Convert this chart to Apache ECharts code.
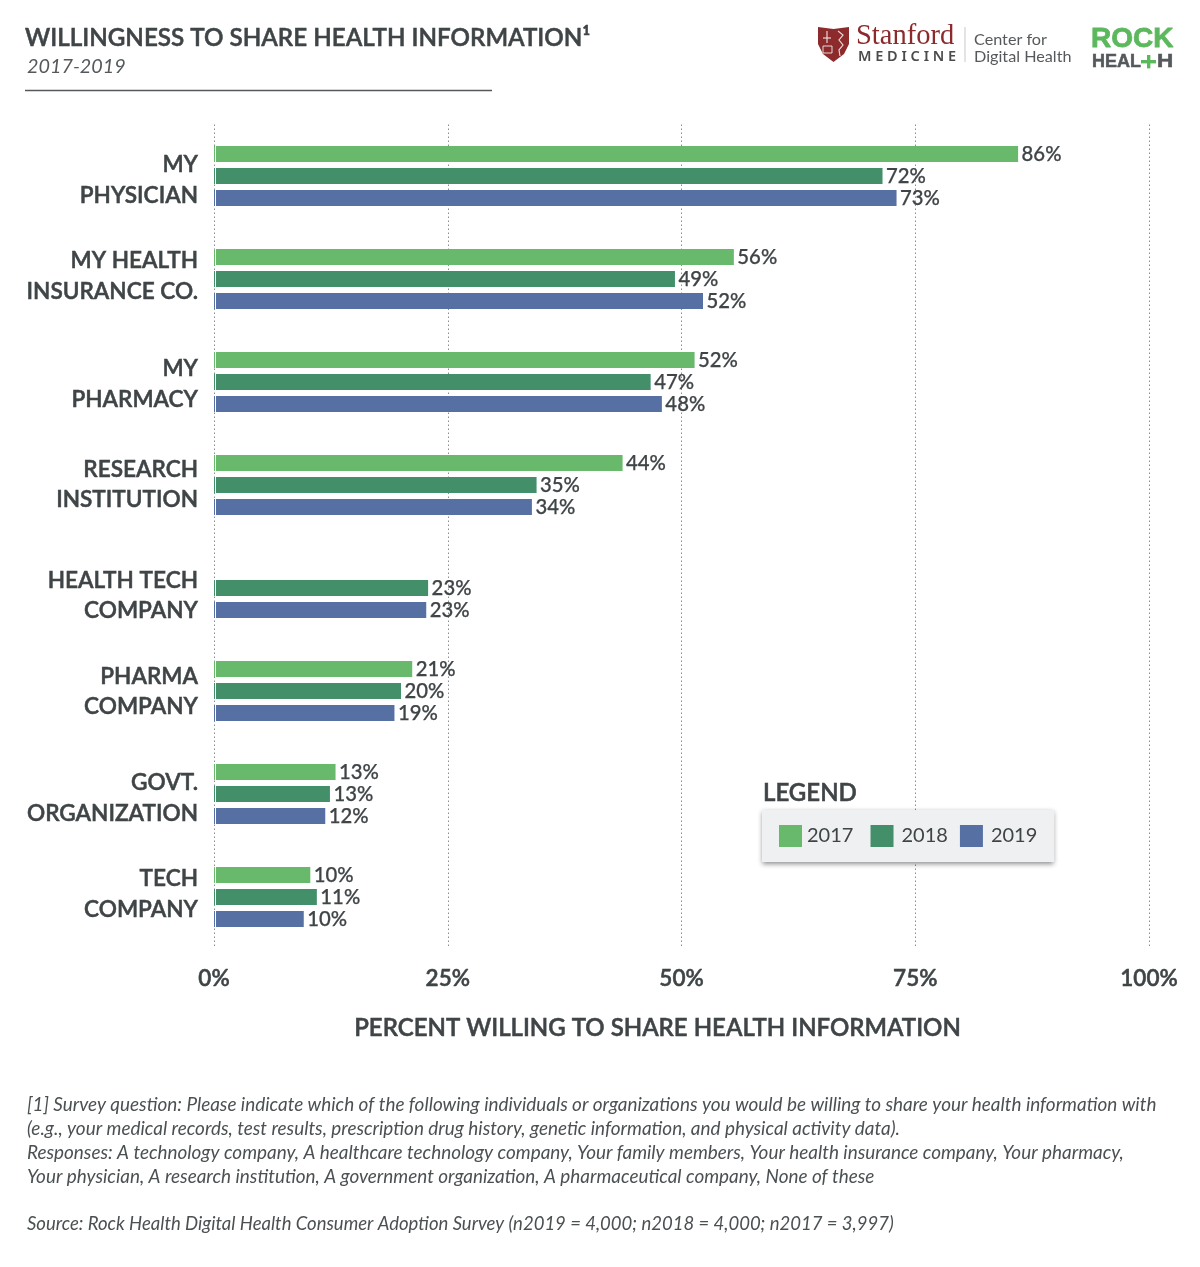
<!DOCTYPE html>
<html><head><meta charset="utf-8">
<style>html,body{margin:0;padding:0;background:#fff}#c{width:1200px;height:1267px}</style>
<script src="https://cdn.jsdelivr.net/npm/echarts@6/dist/echarts.min.js"></script>
</head><body><div id="c"></div>
<script>
const categories=['MY\nPHYSICIAN','MY HEALTH\nINSURANCE CO.','MY\nPHARMACY','RESEARCH\nINSTITUTION','HEALTH TECH\nCOMPANY','PHARMA\nCOMPANY','GOVT.\nORGANIZATION','TECH\nCOMPANY'];
const values2017=[86,55.6,51.4,43.7,null,21.2,13,10.3];
const values2018=[71.5,49.3,46.7,34.5,22.9,20,12.4,11];
const values2019=[73,52.3,47.9,34,22.7,19.3,11.9,9.6];
const labels2017=['86%','56%','52%','44%','','21%','13%','10%'];
const labels2018=['72%','49%','47%','35%','23%','20%','13%','11%'];
const labels2019=['73%','52%','48%','34%','23%','19%','12%','10%'];
const axisTicks=[0,25,50,75,100];
const labelShift=[4,-3,2,-0.5,7.5,0.5,4,-3];
const footnotes=['[1] Survey question: Please indicate which of the following individuals or organizations you would be willing to share your health information with','(e.g., your medical records, test results, prescription drug history, genetic information, and physical activity data).','Responses: A technology company, A healthcare technology company, Your family members, Your health insurance company, Your pharmacy,','Your physician, A research institution, A government organization, A pharmaceutical company, None of these','','Source: Rock Health Digital Health Consumer Adoption Survey (n2019 = 4,000; n2018 = 4,000; n2017 = 3,997)'];
const TXT='#3f4447',FONT='Lato';
const heavy={textBorderColor:TXT,textBorderWidth:0.5};
const rich={a:Object.assign({fontFamily:FONT,fontSize:22.6,fontWeight:600,color:TXT,lineHeight:30.5,align:'right'},heavy)};
labelShift.forEach((s,i)=>{rich['sp'+i]={fontSize:1,lineHeight:Math.abs(s)*2,color:'transparent'};});
function catLabel(v,i){
 const lines=v.split('\n').map(l=>`{a|${l}}`).join('\n');
 const s=labelShift[i];
 const sp=`{sp${i}|\u00a0}`;
 return s>0?sp+'\n'+lines:lines+'\n'+sp;
}
function series(name,vals,labs,color){return{name,type:'bar',data:vals,barWidth:16,barGap:'37.5%',itemStyle:{color},
 label:{show:true,position:'right',distance:3.5,fontFamily:FONT,fontSize:20.3,fontWeight:500,color:TXT,textBorderColor:TXT,textBorderWidth:0.25,formatter:p=>labs[p.dataIndex]}};}
function T(x,y,text,size,color,extra){return{type:'text',x,y,silent:true,z:10,style:Object.assign({text,fontFamily:FONT,fontSize:size,fill:color,verticalAlign:'middle'},extra||{})};}
const bold={stroke:TXT,lineWidth:0.5,fontWeight:600};
const chart=echarts.init(document.getElementById('c'),null,{renderer:'canvas'});
chart.setOption({
 animation:false,backgroundColor:'#fff',
 grid:{left:214,top:124.5,width:935,height:824,containLabel:false},
 xAxis:{type:'value',min:0,max:100,interval:25,position:'bottom',
  axisLine:{show:false},axisTick:{show:false},
  splitLine:{show:true,lineStyle:{type:[1.5,2.5],color:'#8a8d90',width:1}},
  axisLabel:Object.assign({margin:19,formatter:v=>axisTicks.includes(v)?v+'%':'',fontFamily:FONT,fontSize:22.5,fontWeight:600,color:TXT,hideOverlap:false,alignMinLabel:'center',alignMaxLabel:'center'},heavy),
  name:'PERCENT WILLING TO SHARE HEALTH INFORMATION',nameLocation:'middle',nameGap:68,
  nameTextStyle:Object.assign({fontFamily:FONT,fontSize:24,fontWeight:600,color:TXT,padding:[0,48,0,0]},heavy)},
 yAxis:{type:'category',inverse:true,data:categories,axisLine:{show:false},axisTick:{show:false},
  axisLabel:{margin:16,interval:0,align:'right',formatter:catLabel,rich}},
 legend:{left:762,top:810,orient:'horizontal',backgroundColor:'#eff0f2',padding:[15,17,15,17],itemWidth:23,itemHeight:22,itemGap:12,
  shadowColor:'rgba(0,0,0,0.45)',shadowBlur:5,shadowOffsetY:2,
  icon:'rect',textStyle:{fontFamily:FONT,fontSize:20,color:TXT},
  formatter:n=>n==='2017'?n+'\u00a0':n,
  data:[{name:'2017'},{name:'2018',textStyle:{padding:[0,0,0,3]}},{name:'2019',textStyle:{padding:[0,0,0,3]}}]},
 series:[series('2017',values2017,labels2017,'#69b96c'),series('2018',values2018,labels2018,'#428f69'),series('2019',values2019,labels2019,'#5670a3')],
 graphic:[
  {type:'rect',silent:true,z:9,shape:{x:215,y:124,width:1,height:824},style:{fill:'#fff'}},
  T(25,38.5,'WILLINGNESS TO SHARE HEALTH INFORMATION¹',24.2,TXT,bold),
  T(27,67,'2017-2019',19.8,'#55595c',{fontStyle:'italic'}),
  {type:'line',silent:true,shape:{x1:25,y1:90.5,x2:492,y2:90.5},style:{stroke:'#55595c',lineWidth:1.3}},
  T(763,793,'LEGEND',24,TXT,bold),
  ...footnotes.map((t,i)=>T(27,1104.5+24*i,t,i===5?18.5:18.9,'#4b5053',{fontStyle:'italic'})),
  // Stanford mark
  {type:'polygon',silent:true,z:10,shape:{points:[[818,27],[833.5,29],[849,27],[849,44],[844,54],[833.5,62],[823,54],[818,44]]},style:{fill:'#8c2a2c'}},
  {type:'line',silent:true,z:11,shape:{x1:827,y1:31,x2:827,y2:43},style:{stroke:'#e8d8d8',lineWidth:1.2}},
  {type:'line',silent:true,z:11,shape:{x1:823,y1:38,x2:831,y2:38},style:{stroke:'#e8d8d8',lineWidth:1.2}},
  {type:'polyline',silent:true,z:11,shape:{points:[[838,31],[843,35],[839,40],[843,45],[839,50],[840,56]]},style:{stroke:'#e8d8d8',lineWidth:1.2,fill:'none'}},
  {type:'rect',silent:true,z:11,shape:{x:823,y:46,width:9,height:7},style:{stroke:'#e8d8d8',lineWidth:1,fill:'none'}},
  T(856,36.5,'Stanford',28.5,'#8c2a2c',{fontFamily:'Liberation Serif'}),
  T(858,57,'M E D I C I N E',14.5,'#4b4b4b',{fontFamily:'Noto Sans',fontWeight:600}),
  {type:'line',silent:true,shape:{x1:965,y1:27,x2:965,y2:62},style:{stroke:'#c9c9c9',lineWidth:1}},
  T(974,40,'Center for',16.2,'#55595c'),
  T(974,57,'Digital Health',16.2,'#55595c'),
  T(1091,39,'ROCK',28,'#5cb85c',{fontFamily:'Liberation Sans',fontWeight:'bold',stroke:'#5cb85c',lineWidth:0.8}),
  T(1092,62,'HEAL',18,'#55595c',{fontFamily:'Liberation Sans',fontWeight:'bold',stroke:'#55595c',lineWidth:0.5}),
  {type:'rect',silent:true,z:10,shape:{x:1141,y:60,width:15,height:3.4},style:{fill:'#5cb85c'}},
  {type:'rect',silent:true,z:10,shape:{x:1147,y:55,width:3.4,height:13.4},style:{fill:'#5cb85c'}},
  Object.assign(T(1157,62,'H',18,'#55595c',{fontFamily:'Liberation Sans',fontWeight:'bold',stroke:'#55595c',lineWidth:0.5}),{scaleX:1.25})
 ]
});
</script></body></html>
